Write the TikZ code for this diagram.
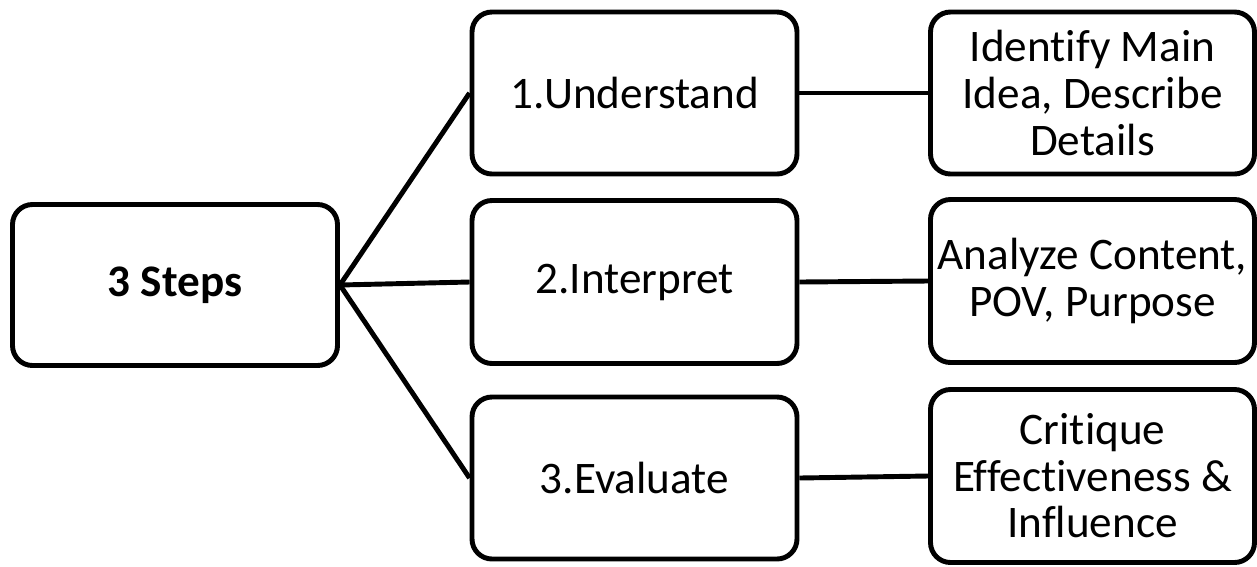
\documentclass[tikz,border=0pt]{standalone}
\usepackage{fontspec}
\setmainfont{Carlito}[Ligatures=NoCommon]
\usepackage{tikz}
\usetikzlibrary{positioning}

\tikzset{
  stepbox/.style={draw, rounded corners=0.4cm, line width=2.8pt, align=center,
    inner sep=0pt, minimum width=325\pxu, minimum height=162\pxu,
    font=\fontsize{25.7}{26.5}\selectfont},
  link/.style={line width=2.8pt}
}
\newlength{\pxu}
\setlength{\pxu}{0.02cm}

\begin{document}
\begin{tikzpicture}[x=0.02cm, y=-0.02cm]
    \useasboundingbox (0,0) rectangle (1257,566);

    % Root
    \node[stepbox, minimum height=161\pxu, font=\fontsize{25.7}{26.5}\selectfont\bfseries] (root) at (175,285) {3 Steps};

    % Steps
    \node[stepbox] (understand) at (634.5,93) {1.Understand};
    \node[stepbox, minimum height=163\pxu] (interpret) at (634.5,282) {2.Interpret};
    \node[stepbox] (evaluate) at (634.5,478) {3.Evaluate};

    % Details
    \node[stepbox, minimum width=324\pxu] (mainidea) at (1092.5,93) {Identify Main\\Idea, Describe\\Details};
    \node[stepbox, minimum width=324\pxu, minimum height=163\pxu] (content) at (1092.5,281) {Analyze Content,\\POV, Purpose};
    \node[stepbox, minimum width=324\pxu, minimum height=173\pxu] (critique) at (1092.5,476) {Critique\\Effectiveness \&\\Influence};

    % Root to steps
    \draw[link] (root.east) -- (understand.west);
    \draw[link] (root.east) -- (interpret.west);
    \draw[link] (root.east) -- (evaluate.west);

    % Steps to details
    \draw[link] (understand.east) -- (mainidea.west);
    \draw[link] (interpret.east) -- (content.west);
    \draw[link] (evaluate.east) -- (critique.west);

\end{tikzpicture}
\end{document}
